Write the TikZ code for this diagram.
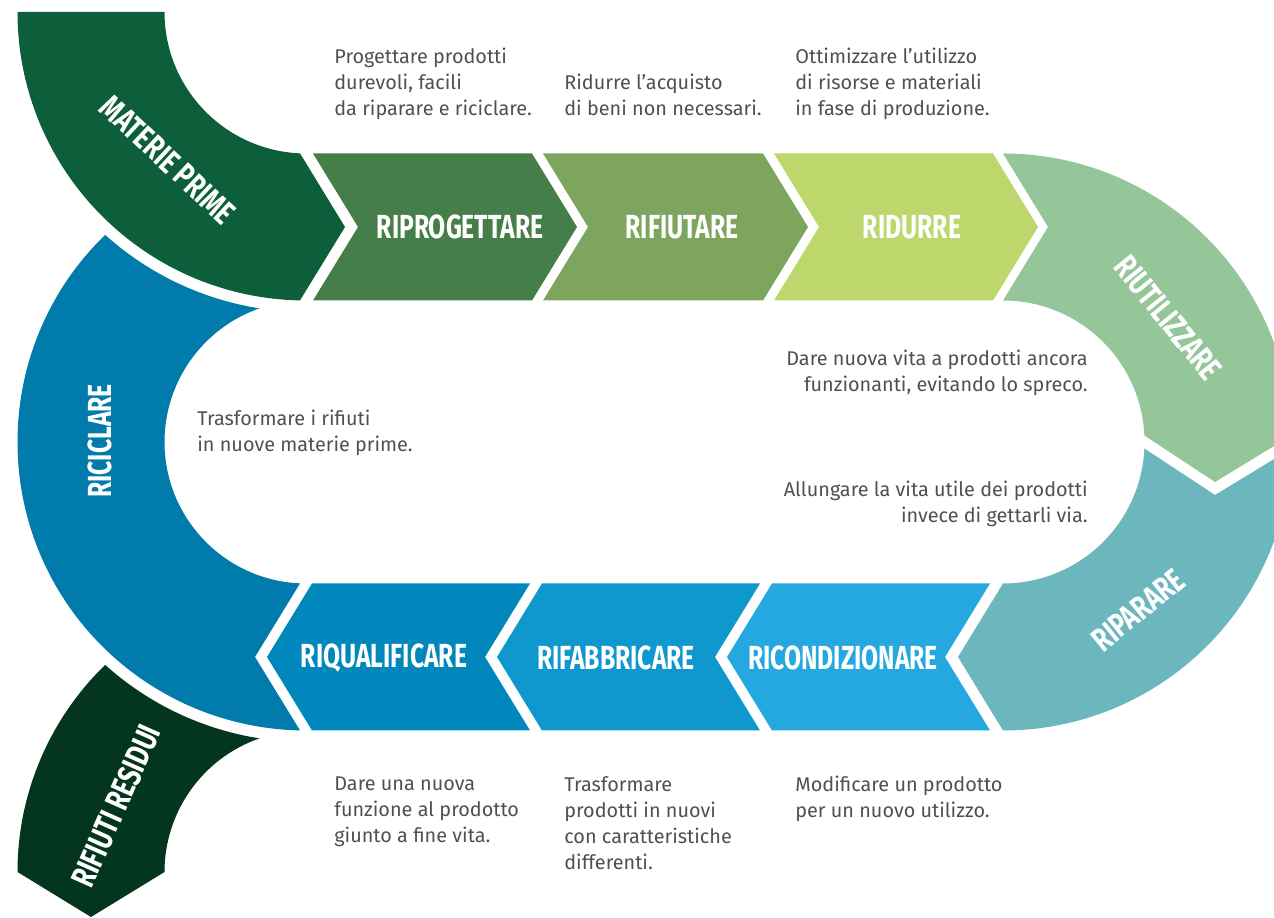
\documentclass[tikz,border=0pt]{standalone}
\usepackage{fontspec}
\setmainfont{Fira Sans}
\newfontfamily\labelfont[FakeStretch=0.74]{Fira Sans}
\usetikzlibrary{calc}

\definecolor{matprime}{HTML}{0D5E3A}
\definecolor{riprog}{HTML}{467E49}
\definecolor{rifiut}{HTML}{7EA55D}
\definecolor{ridur}{HTML}{BDD76D}
\definecolor{riutil}{HTML}{95C699}
\definecolor{ripar}{HTML}{6BB7BD}
\definecolor{ricond}{HTML}{25A8E0}
\definecolor{rifabb}{HTML}{0F98CE}
\definecolor{riqual}{HTML}{0088BC}
\definecolor{ricicl}{HTML}{007BAC}
\definecolor{resid}{HTML}{03351F}
\definecolor{desctext}{HTML}{505050}

\tikzset
{
    stagelabel/.style = {font=\labelfont\bfseries\fontsize{19}{19}\selectfont, text=white, inner sep=0pt},
    desc/.style       = {font=\fontsize{11.3}{14.8}\selectfont, text=desctext, align=left, inner sep=0pt, anchor=north west},
    descright/.style  = {desc, align=right, anchor=north east}
}

\begin{document}
\begin{tikzpicture}[x=0.02cm, y=0.02cm]
\useasboundingbox (0,0) rectangle (1274,918);
\clip (0,0) rectangle (1274,918);

\coordinate (L) at (306,476);
\coordinate (R) at (1003,476);
\coordinate (M) at (306,906);
\coordinate (W) at (306,46);

%% top row
\fill[matprime] ($(M)+(180:288.5)$) arc[start angle=180, end angle=268.81, radius=288.5] -- (345,691)
    -- ($(M)+(267.57:141.5)$) arc[start angle=267.57, end angle=180, radius=141.5] -- cycle;
\fill[riprog] (313,764.5) -- (532,764.5) -- (577,691) -- (532,617.5) -- (313,617.5) -- (358,691) -- cycle;
\fill[rifiut] (543,764.5) -- (763,764.5) -- (808,691) -- (763,617.5) -- (543,617.5) -- (588,691) -- cycle;
\fill[ridur]  (774,764.5) -- (993,764.5) -- (1038,691) -- (993,617.5) -- (774,617.5) -- (819,691) -- cycle;

%% right loop
\fill[riutil] (1003,764.5) arc[start angle=90, end angle=1.29, radius=288.5] -- (1215,436)
    -- ($(R)+(2.63:141.5)$) arc[start angle=2.63, end angle=90, radius=141.5] -- (1048,691) -- cycle;
\fill[ripar] ($(R)+(-1.29:288.5)$) arc[start angle=-1.29, end angle=-90, radius=288.5] -- (958,261)
    -- (1003,334.5) arc[start angle=-90, end angle=-2.63, radius=141.5] -- (1215,423) -- cycle;

%% bottom row
\fill[ricond] (772,334.5) -- (990,334.5) -- (945,261) -- (990,187.5) -- (772,187.5) -- (727,261) -- cycle;
\fill[rifabb] (542,334.5) -- (760,334.5) -- (715,261) -- (760,187.5) -- (542,187.5) -- (497,261) -- cycle;
\fill[riqual] (312,334.5) -- (530,334.5) -- (485,261) -- (530,187.5) -- (312,187.5) -- (267,261) -- cycle;

%% left loop
\fill[ricicl] ($(L)+(134.12:288.5)$) arc[start angle=134.12, end angle=268.81, radius=288.5] -- (255,261)
    -- ($(L)+(267.57:141.5)$) arc[start angle=267.57, end angle=109.20, radius=141.5]
    arc[start angle=261.08, end angle=227.98, radius=300] -- cycle;
\fill[resid] ($(W)+(134.12:288.5)$) arc[start angle=134.12, end angle=180, radius=288.5] -- (91,1)
    -- ($(W)+(180:141.5)$) arc[start angle=180, end angle=109.20, radius=141.5]
    arc[start angle=261.08, end angle=227.98, radius=300] -- cycle;

%% stage labels
\node (matlabel) [stagelabel, rotate=-43] at (168,758) {MATERIE PRIME};
\node (riprlabel) [stagelabel] at (460,691) {RIPROGETTARE};
\node (rifilabel) [stagelabel] at (682,691) {RIFIUTARE};
\node (ridulabel) [stagelabel] at (912,691) {RIDURRE};
\node (riutlabel) [stagelabel, rotate=-51] at (1168,600) {RIUTILIZZARE};
\node (ripalabel) [stagelabel, rotate=39] at (1138,308) {RIPARARE};
\node (rcolabel) [stagelabel] at (843,260) {RICONDIZIONARE};
\node (rfblabel) [stagelabel] at (616,260) {RIFABBRICARE};
\node (rqulabel) [stagelabel] at (384,260) {RIQUALIFICARE};
\node (riclabel) [stagelabel, rotate=90] at (100,477) {RICICLARE};
\node (reslabel) [stagelabel, rotate=66] at (116,112) {RIFIUTI RESIDUI};

%% descriptions
\node (riprdesc) [desc] at (334,870) {Progettare prodotti\\durevoli, facili\\da riparare e riciclare.};
\node (rifidesc) [desc] at (564,844) {Ridurre l’acquisto\\di beni non necessari.};
\node (ridudesc) [desc] at (795,870) {Ottimizzare l’utilizzo\\di risorse e materiali\\in fase di produzione.};
\node (riutdesc) [descright] at (1088,568) {Dare nuova vita a prodotti ancora\\funzionanti, evitando lo spreco.};
\node (ripadesc) [descright] at (1088,437) {Allungare la vita utile dei prodotti\\invece di gettarli via.};
\node (ricdesc) [desc] at (197,508) {Trasformare i rifiuti\\in nuove materie prime.};
\node (rqudesc) [desc] at (334,142) {Dare una nuova\\funzione al prodotto\\giunto a fine vita.};
\node (rfbdesc) [desc] at (564,142) {Trasformare\\prodotti in nuovi\\con caratteristiche\\differenti.};
\node (rcodesc) [desc] at (795,142) {Modificare un prodotto\\per un nuovo utilizzo.};

\end{tikzpicture}
\end{document}
